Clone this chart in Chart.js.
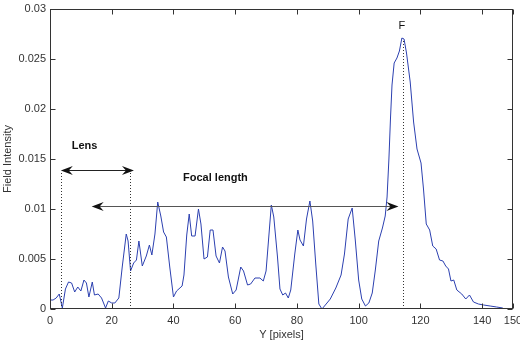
<!DOCTYPE html>
<html>
<head>
<meta charset="utf-8">
<script src="https://cdn.jsdelivr.net/npm/chart.js@4.4.1/dist/chart.umd.min.js"></script>
<style>
  html, body { margin: 0; padding: 0; background: #fff; }
  #wrap { width: 520px; height: 344px; }
</style>
</head>
<body>
<div id="wrap"><canvas id="myChart"></canvas></div>
<script>
// field intensity along Y
let yPixels = [0, 1, 2, 3, 4, 5, 6, 7, 8, 9, 10, 11, 11.8, 12.6, 13.7, 14.4, 15.6, 16.7, 18, 18.9,
  20, 21, 22.3, 23.4, 24.7, 25.3, 26.1, 27.1, 28, 28.8, 29.9, 31.2, 32.2, 33, 34, 34.9, 35.9, 36.8, 37.7, 38.8,
  40, 41, 42.8, 43.4, 44.3, 45.1, 45.9, 47, 48.1, 48.9, 49.9, 51, 51.9, 52.8, 53.8, 54.9, 55.9, 56.7, 57.8, 59.2,
  60.3, 61.8, 62.7, 64, 65, 66.4, 68, 69.1, 70, 71.7, 72.5, 73.7, 74.5, 75.4, 76.3, 77.2, 78, 79.3,
  80.3, 81, 82.1, 83.1, 84.2, 85.1, 86.1, 87.1, 88.1, 89.2, 90.8, 92.6, 94.3, 95.4, 96.6, 97.9, 98.9,
  100, 101, 102.2, 103.3, 104.4, 105.4, 106.5, 107.7, 108.6, 109.2, 109.8, 110.3, 110.8, 111.5, 112.4, 113.2,
  114, 114.7, 115.5, 116.7, 117.8, 118.9, 120.2, 121, 121.9, 123, 124, 125.1, 126.2, 127.3, 128.2, 129.1, 129.9,
  130.8, 131.8, 133.4, 134.7, 135.9, 137.2, 138.8, 140.5, 142.6, 144.7, 146.7];

let fieldIntensity = [0.0009, 0.0009, 0.0011, 0.0015, 0.0001, 0.0020, 0.0027, 0.0026, 0.0017, 0.0022, 0.0018, 0.0029, 0.0026, 0.0012, 0.0027, 0.0014, 0.0015, 0.0011, 0.0001, 0.0008,
  0.0006, 0.0006, 0.0011, 0.0042, 0.0075, 0.0068, 0.0038, 0.0046, 0.0049, 0.0068, 0.0043, 0.0053, 0.0064, 0.0054, 0.0075, 0.0107, 0.0093, 0.0077, 0.0072, 0.0042,
  0.0012, 0.0018, 0.0023, 0.0034, 0.0074, 0.0095, 0.0073, 0.0073, 0.0100, 0.0085, 0.0050, 0.0052, 0.0079, 0.0079, 0.0053, 0.0046, 0.0062, 0.0058, 0.0032, 0.0015,
  0.0019, 0.0042, 0.0038, 0.0024, 0.0025, 0.0031, 0.0031, 0.0028, 0.0038, 0.0104, 0.0092, 0.0052, 0.0020, 0.0014, 0.0016, 0.0011, 0.0019, 0.0055,
  0.0079, 0.0069, 0.0063, 0.0090, 0.0108, 0.0088, 0.0045, 0.0005, 0.0000, 0.0004, 0.0010, 0.0021, 0.0034, 0.0055, 0.0090, 0.0101, 0.0069,
  0.0029, 0.0010, 0.0003, 0.0006, 0.0016, 0.0039, 0.0068, 0.0081, 0.0093, 0.0112, 0.0150, 0.0190, 0.0224, 0.0246, 0.0251, 0.0258,
  0.0271, 0.0270, 0.0256, 0.0227, 0.0187, 0.0160, 0.0146, 0.0120, 0.0085, 0.0079, 0.0063, 0.0060, 0.0049, 0.0048, 0.0043, 0.0040, 0.0028,
  0.0029, 0.0019, 0.0015, 0.0010, 0.0014, 0.0007, 0.0005, 0.0004, 0.0003, 0.0002, 0.0001];

let xTicks = [0, 20, 40, 60, 80, 100, 120, 140, 150];
let yTicks = [0, 0.005, 0.01, 0.015, 0.02, 0.025, 0.03];
let yTickLabels = ['0', '0.005', '0.01', '0.015', '0.02', '0.025', '0.03'];

// annotations, in data units
let lensMarks = [3.5, 25.9];
let lensArrow = [3.5, 27.2, 0.0139];
let focalArrow = [13.5, 112.9, 0.0103];
let focusMark = [114.3, 0.0269];
let labels = [
  {text: 'Lens', x: 11.2, y: 0.0163, bold: true},
  {text: 'Focal length', x: 53.6, y: 0.0131, bold: true},
  {text: 'F', x: 114, y: 0.0283, bold: false}
];

const FONT = 'Liberation Sans, Arial, sans-serif';

function arrowHead(ctx, tipX, tipY, dir) {
  // dir = -1 points left, 1 points right
  ctx.beginPath();
  ctx.moveTo(tipX, tipY);
  ctx.lineTo(tipX - dir * 12, tipY - 4.5);
  ctx.lineTo(tipX - dir * 8, tipY);
  ctx.lineTo(tipX - dir * 12, tipY + 4.5);
  ctx.closePath();
  ctx.fill();
}

function hArrow(ctx, x, y, a, lineColor) {
  let x1 = x.getPixelForValue(a[0]);
  let x2 = x.getPixelForValue(a[1]);
  let py = Math.round(y.getPixelForValue(a[2])) + 0.5;
  ctx.strokeStyle = lineColor;
  ctx.lineWidth = 1;
  ctx.beginPath();
  ctx.moveTo(x1 + 6, py);
  ctx.lineTo(x2 - 6, py);
  ctx.stroke();
  ctx.fillStyle = '#111';
  arrowHead(ctx, x1, py, -1);
  arrowHead(ctx, x2, py, 1);
}

function dotted(ctx, x, y, xv, top) {
  let px = Math.round(x.getPixelForValue(xv)) + 0.5;
  ctx.save();
  ctx.setLineDash([1, 2]);
  ctx.strokeStyle = '#333';
  ctx.beginPath();
  ctx.moveTo(px, y.getPixelForValue(0));
  ctx.lineTo(px, y.getPixelForValue(top));
  ctx.stroke();
  ctx.restore();
}

const overlay = {
  id: 'overlay',
  afterDraw(chart) {
    const {ctx, chartArea: a, scales: {x, y}} = chart;
    ctx.save();

    dotted(ctx, x, y, lensMarks[0], 0.0137);
    dotted(ctx, x, y, lensMarks[1], 0.0137);
    dotted(ctx, x, y, focusMark[0], focusMark[1]);
    hArrow(ctx, x, y, lensArrow, '#222');
    hArrow(ctx, x, y, focalArrow, '#555');

    ctx.fillStyle = '#111';
    ctx.textAlign = 'center';
    ctx.textBaseline = 'middle';
    labels.forEach(l => {
      ctx.font = (l.bold ? 'bold ' : '') + '11px ' + FONT;
      ctx.fillText(l.text, x.getPixelForValue(l.x), y.getPixelForValue(l.y));
    });

    // box and inward ticks
    ctx.strokeStyle = '#333';
    ctx.lineWidth = 1;
    let L = Math.round(a.left) + 0.5, R = Math.round(a.right) - 0.5;
    let T = Math.round(a.top) + 0.5, B = Math.round(a.bottom) - 0.5;
    ctx.strokeRect(L, T, R - L, B - T);
    ctx.beginPath();
    x.ticks.forEach(t => {
      let px = Math.round(x.getPixelForValue(t.value)) + 0.5;
      ctx.moveTo(px, B); ctx.lineTo(px, B - 5);
      ctx.moveTo(px, T); ctx.lineTo(px, T + 5);
    });
    y.ticks.forEach(t => {
      let py = Math.round(y.getPixelForValue(t.value)) + 0.5;
      ctx.moveTo(L, py); ctx.lineTo(L + 5, py);
      ctx.moveTo(R, py); ctx.lineTo(R - 5, py);
    });
    ctx.stroke();
    ctx.restore();
  }
};

let chartElement = document.getElementById('myChart').getContext('2d');

let myChart = new Chart(chartElement, {
  type: 'line',
  data: {
    datasets: [{
      data: yPixels.map((v, i) => ({x: v, y: fieldIntensity[i]})),
      borderColor: '#2c40b0',
      borderWidth: 1,
      pointRadius: 0,
      tension: 0,
      fill: false
    }]
  },
  options: {
    responsive: true,
    maintainAspectRatio: false,
    animation: false,
    layout: {padding: {top: 9, right: 7, left: 0, bottom: 0}},
    plugins: {legend: {display: false}, tooltip: {enabled: false}},
    scales: {
      x: {
        type: 'linear',
        min: 0,
        max: 150,
        afterBuildTicks: s => { s.ticks = xTicks.map(v => ({value: v})); },
        afterFit: s => { s.height = 35; s.paddingLeft = 0; s.paddingRight = 0; },
        grid: {display: false, drawTicks: false},
        border: {display: false},
        ticks: {autoSkip: false, maxRotation: 0, padding: 5, color: '#333', font: {family: FONT, size: 11}},
        title: {display: true, text: 'Y [pixels]', color: '#333', font: {family: FONT, size: 11}, padding: {top: 0, bottom: 2}}
      },
      y: {
        min: 0,
        max: 0.03,
        afterBuildTicks: s => { s.ticks = yTicks.map(v => ({value: v})); },
        afterFit: s => { s.width = 50; s.paddingTop = 0; s.paddingBottom = 0; },
        grid: {display: false, drawTicks: false},
        border: {display: false},
        ticks: {
          padding: 4, color: '#333', font: {family: FONT, size: 11},
          callback: (v, i) => yTickLabels[i]
        },
        title: {display: true, text: 'Field Intensity', color: '#333', font: {family: FONT, size: 11}, padding: {top: 1, bottom: 0}}
      }
    }
  },
  plugins: [overlay]
});
</script>
</body>
</html>
